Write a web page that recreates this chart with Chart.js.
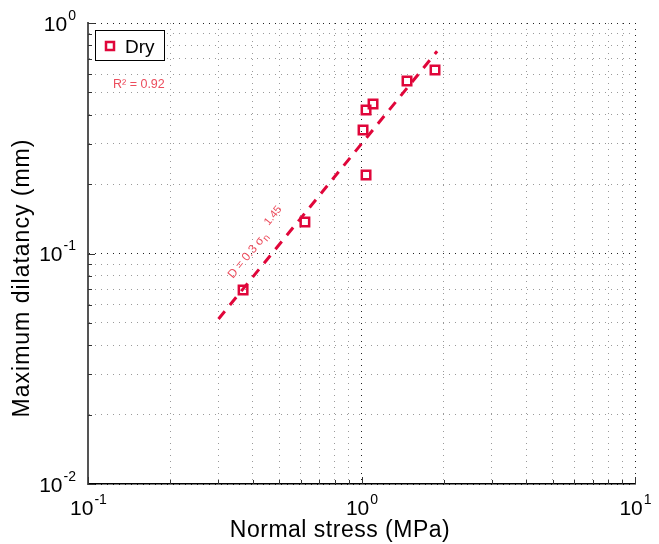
<!DOCTYPE html>
<html>
<head>
<meta charset="utf-8">
<script src="https://cdn.jsdelivr.net/npm/chart.js@4.4.1/dist/chart.umd.min.js"></script>
<style>
  html, body { margin: 0; padding: 0; background: #fff; }
</style>
</head>
<body>
<canvas id="chart" width="659" height="544"></canvas>
<script>
// data
const seriesLabel = 'Dry';
const stress = [0.369, 0.621, 1.013, 1.039, 1.039, 1.102, 1.467, 1.857];
const dilatancy = [0.0694, 0.137, 0.3435, 0.219, 0.4195, 0.4454, 0.560, 0.625];

// power-law fit D = 0.3 * sigma_n^1.45, drawn between its two ends
const fitStress = [0.3, 1.89];
const fitDilatancy = [0.052, 0.754];
const fitText = ['D = 0.3 σ', 'n', '1.45'];
const r2Text = 'R² = 0.92';

// axes
const xDecades = [0.1, 1, 10];
const yDecades = [0.01, 0.1, 1];
const xTickLabels = [['10', '-1'], ['10', '0'], ['10', '1']];
const yTickLabels = [['10', '-2'], ['10', '-1'], ['10', '0']];
const xTitle = 'Normal stress (MPa)';
const yTitle = 'Maximum dilatancy (mm)';

const red = '#e0063a';
const lightRed = '#ec4d5d';
const font = '"Liberation Sans", Arial, Helvetica, sans-serif';

// every 1..9 multiple of each decade, for the log grid
const logGrid = decades => {
  const vals = [];
  for (let i = 0; i < decades.length - 1; i++) {
    for (let m = 1; m < 10; m++) vals.push(decades[i] * m);
  }
  vals.push(decades[decades.length - 1]);
  return vals;
};
const isDecade = v => Math.abs(Math.log10(v) - Math.round(Math.log10(v))) < 1e-6;

const gridColor = ctx => (ctx.tick && isDecade(ctx.tick.value) ? '#222' : '#9a9a9a');

// labels like 10^-1 with a raised exponent
const drawPow = (ctx, base, exp, x, y, align) => {
  ctx.font = '21px ' + font;
  const bw = ctx.measureText(base).width;
  ctx.font = '14px ' + font;
  const ew = ctx.measureText(exp).width;
  let left = x;
  if (align === 'center') left = x - (bw + ew) / 2;
  if (align === 'right') left = x - bw - ew;
  ctx.textAlign = 'left';
  ctx.textBaseline = 'alphabetic';
  ctx.font = '21px ' + font;
  ctx.fillText(base, left, y);
  ctx.font = '14px ' + font;
  ctx.fillText(exp, left + bw + 1, y - 11);
};

const extrasPlugin = {
  id: 'extras',
  afterDraw(chart) {
    const { ctx, chartArea: area, scales: { x, y } } = chart;
    ctx.save();

    // inner tick marks
    ctx.strokeStyle = '#333';
    ctx.lineWidth = 1;
    ctx.beginPath();
    y.ticks.forEach(t => {
      const py = Math.round(y.getPixelForValue(t.value)) + 0.5;
      const len = isDecade(t.value) ? 7 : 4;
      ctx.moveTo(area.left, py);
      ctx.lineTo(area.left + len, py);
    });
    x.ticks.forEach(t => {
      const px = Math.round(x.getPixelForValue(t.value)) + 0.5;
      const len = isDecade(t.value) ? 7 : 4;
      ctx.moveTo(px, area.bottom);
      ctx.lineTo(px, area.bottom - len);
    });
    ctx.stroke();

    // tick labels
    ctx.fillStyle = '#000';
    xDecades.forEach((v, i) => {
      drawPow(ctx, xTickLabels[i][0], xTickLabels[i][1], x.getPixelForValue(v), area.bottom + 31, 'center');
    });
    yDecades.forEach((v, i) => {
      drawPow(ctx, yTickLabels[i][0], yTickLabels[i][1], area.left - 13, y.getPixelForValue(v) + 7.5, 'right');
    });

    // axis titles (sit a little off-centre in the original)
    ctx.font = '23px ' + font;
    ctx.textAlign = 'center';
    ctx.letterSpacing = '0.5px';
    ctx.fillText(xTitle, 340, 537);
    ctx.letterSpacing = '1px';
    ctx.save();
    ctx.translate(29, 278);
    ctx.rotate(-Math.PI / 2);
    ctx.fillText(yTitle, 0, 0);
    ctx.restore();
    ctx.letterSpacing = '0px';

    // legend box
    const lx = 95.5, ly = 30.5, lw = 69, lh = 30;
    ctx.fillStyle = '#fff';
    ctx.fillRect(lx, ly, lw, lh);
    ctx.strokeStyle = '#000';
    ctx.lineWidth = 1;
    ctx.strokeRect(lx, ly, lw, lh);
    ctx.strokeStyle = red;
    ctx.lineWidth = 2.5;
    ctx.strokeRect(106, 42, 8, 8);
    ctx.fillStyle = '#000';
    ctx.font = '19px ' + font;
    ctx.textAlign = 'left';
    ctx.textBaseline = 'alphabetic';
    ctx.fillText(seriesLabel, 125, 53);

    // R^2 note
    ctx.fillStyle = lightRed;
    ctx.font = '12.5px ' + font;
    ctx.fillText(r2Text, 113, 88);

    // fit equation along the dashed line
    const x0 = x.getPixelForValue(fitStress[0]);
    const y0 = y.getPixelForValue(fitDilatancy[0]);
    const x1 = x.getPixelForValue(fitStress[1]);
    const y1 = y.getPixelForValue(fitDilatancy[1]);
    const ang = Math.atan2(y1 - y0, x1 - x0);
    ctx.translate(x0, y0);
    ctx.rotate(ang);
    ctx.font = '12px ' + font;
    const tx = 40, ty = -14;
    ctx.fillText(fitText[0], tx, ty);
    const w0 = ctx.measureText(fitText[0]).width;
    ctx.font = '10px ' + font;
    ctx.fillText(fitText[1], tx + w0 + 0.5, ty + 3);
    ctx.font = '11px ' + font;
    ctx.fillText(fitText[2], tx + w0 + 14, ty - 6);
    ctx.restore();
  }
};

new Chart(document.getElementById('chart'), {
  type: 'scatter',
  data: {
    datasets: [
      {
        label: seriesLabel,
        data: stress.map((v, i) => ({ x: v, y: dilatancy[i] })),
        pointStyle: 'rect',
        pointRadius: 6,
        pointBorderWidth: 2.5,
        borderColor: red,
        backgroundColor: 'rgba(0,0,0,0)',
        showLine: false
      },
      {
        label: 'fit',
        data: fitStress.map((v, i) => ({ x: v, y: fitDilatancy[i] })),
        showLine: true,
        borderColor: red,
        borderWidth: 3,
        borderDash: [10, 8],
        pointRadius: 0
      }
    ]
  },
  plugins: [extrasPlugin],
  options: {
    responsive: false,
    animation: false,
    layout: { padding: { top: 23, right: 24, left: 0, bottom: 0 } },
    plugins: {
      legend: { display: false },
      tooltip: { enabled: false }
    },
    scales: {
      x: {
        type: 'logarithmic',
        min: xDecades[0],
        max: xDecades[xDecades.length - 1],
        afterBuildTicks: s => { s.ticks = logGrid(xDecades).map(v => ({ value: v })); },
        afterFit: s => { s.height = 60; },
        ticks: { display: false },
        grid: { color: gridColor, lineWidth: 1, drawTicks: false },
        border: { display: true, color: '#000', width: 1.5, dash: [1, 5] }
      },
      y: {
        type: 'logarithmic',
        min: yDecades[0],
        max: yDecades[yDecades.length - 1],
        afterBuildTicks: s => { s.ticks = logGrid(yDecades).map(v => ({ value: v })); },
        afterFit: s => { s.width = 88; },
        ticks: { display: false },
        grid: { color: gridColor, lineWidth: 1, drawTicks: false },
        border: { display: true, color: '#555', width: 2, dash: [1, 5] }
      }
    }
  }
});
</script>
</body>
</html>
